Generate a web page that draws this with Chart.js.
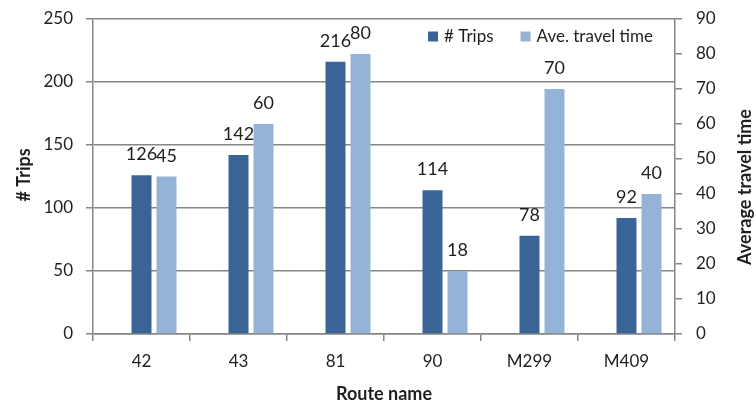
<!DOCTYPE html>
<html>
<head>
<meta charset="utf-8">
<script src="https://cdn.jsdelivr.net/npm/chart.js@4.4.0/dist/chart.umd.min.js"></script>
<style>
  html, body { margin: 0; padding: 0; background: #fff; }
</style>
</head>
<body>
<canvas id="routeChart" width="756" height="407"></canvas>
<script>
// Trips and average travel time per route
const routes = ['42', '43', '81', '90', 'M299', 'M409'];
const trips = [126, 142, 216, 114, 78, 92];
const travelTime = [45, 60, 80, 18, 70, 40];
const tripsRange = [0, 250];
const tripsStep = 50;
const timeRange = [0, 90];
const timeStep = 10;

const gridGray = '#868686';
const textColor = '#1f1f1f';
const fontFamily = 'Lato, "DejaVu Sans", sans-serif';

// numbers above each bar
const valueLabels = {
  id: 'valueLabels',
  afterDatasetsDraw(chart) {
    const ctx = chart.ctx;
    ctx.save();
    ctx.font = '18px ' + fontFamily;
    ctx.fillStyle = textColor;
    ctx.textAlign = 'center';
    ctx.textBaseline = 'alphabetic';
    chart.data.datasets.forEach((ds, i) => {
      if (!ds.label) return;
      chart.getDatasetMeta(i).data.forEach((bar, j) => {
        ctx.fillText(ds.data[j], bar.x, bar.y - 15);
      });
    });
    ctx.restore();
  }
};

// legend sitting inside the plot, top right
const innerLegend = {
  id: 'innerLegend',
  afterDraw(chart) {
    const { ctx, chartArea } = chart;
    const items = chart.data.datasets.filter(ds => ds.label);
    ctx.save();
    ctx.font = '17px ' + fontFamily;
    ctx.textBaseline = 'alphabetic';
    ctx.textAlign = 'left';
    let x = chartArea.right - 22;
    for (let k = items.length - 1; k >= 0; k--) {
      const w = ctx.measureText(items[k].label).width;
      x -= w;
      ctx.fillStyle = textColor;
      ctx.fillText(items[k].label, x, 41.5);
      ctx.fillStyle = items[k].backgroundColor;
      ctx.fillRect(x - 16, 31.5, 10, 10);
      x -= 16 + 27;
    }
    ctx.restore();
  }
};

// axis titles, both vertical ones read bottom to top
const axisTitles = {
  id: 'axisTitles',
  afterDraw(chart) {
    const { ctx, chartArea } = chart;
    ctx.save();
    ctx.font = 'bold 18px ' + fontFamily;
    ctx.fillStyle = textColor;
    ctx.textAlign = 'center';
    ctx.textBaseline = 'alphabetic';
    ctx.fillText('Route name', (chartArea.left + chartArea.right) / 2, 400);

    ctx.save();
    ctx.translate(29.5, 175);
    ctx.rotate(-Math.PI / 2);
    ctx.fillText('# Trips', 0, 0);
    ctx.restore();

    ctx.save();
    ctx.translate(751, 187);
    ctx.rotate(-Math.PI / 2);
    ctx.fillText('Average travel time', 0, 0);
    ctx.restore();

    ctx.restore();
  }
};

const tickFont = { family: fontFamily, size: 17 };

// fixed axis width, and no extra room reserved above/below for tick labels
function fixWidth(w) {
  return function (scale) {
    scale.width = w;
    scale.paddingTop = 0;
    scale.paddingBottom = 0;
  };
}

new Chart(document.getElementById('routeChart'), {
  type: 'bar',
  data: {
    labels: routes,
    datasets: [
      // empty first slot so the trips bar lands on the category centre
      { data: routes.map(() => null), yAxisID: 'y' },
      {
        label: '# Trips',
        data: trips,
        yAxisID: 'y',
        backgroundColor: '#3B6496'
      },
      {
        label: 'Ave. travel time',
        data: travelTime,
        yAxisID: 'y1',
        backgroundColor: '#95B3D7'
      }
    ]
  },
  options: {
    responsive: false,
    animation: false,
    layout: { padding: { top: 19, left: 0, right: 0, bottom: 0 } },
    datasets: {
      bar: { categoryPercentage: 0.773, barPercentage: 0.8 }
    },
    plugins: {
      legend: { display: false },
      tooltip: { enabled: false }
    },
    scales: {
      x: {
        grid: { color: gridGray, lineWidth: 1.5, drawOnChartArea: false, tickLength: 7, offset: true },
        border: { color: gridGray, width: 1.5 },
        ticks: { color: textColor, font: tickFont, padding: 10, maxRotation: 0 },
        afterFit(scale) { scale.height = 73; }
      },
      y: {
        position: 'left',
        min: tripsRange[0],
        max: tripsRange[1],
        ticks: { stepSize: tripsStep, color: textColor, font: tickFont, padding: 13 },
        grid: { color: gridGray, lineWidth: 1.5, tickLength: 7 },
        border: { color: gridGray, width: 1.5 },
        afterFit: fixWidth(93)
      },
      y1: {
        position: 'right',
        min: timeRange[0],
        max: timeRange[1],
        ticks: { stepSize: timeStep, color: textColor, font: tickFont, padding: 14 },
        grid: { color: gridGray, lineWidth: 1.5, tickLength: 7, drawOnChartArea: false },
        border: { color: gridGray, width: 1.5 },
        afterFit: fixWidth(81)
      }
    }
  },
  plugins: [valueLabels, innerLegend, axisTitles]
});
</script>
</body>
</html>
